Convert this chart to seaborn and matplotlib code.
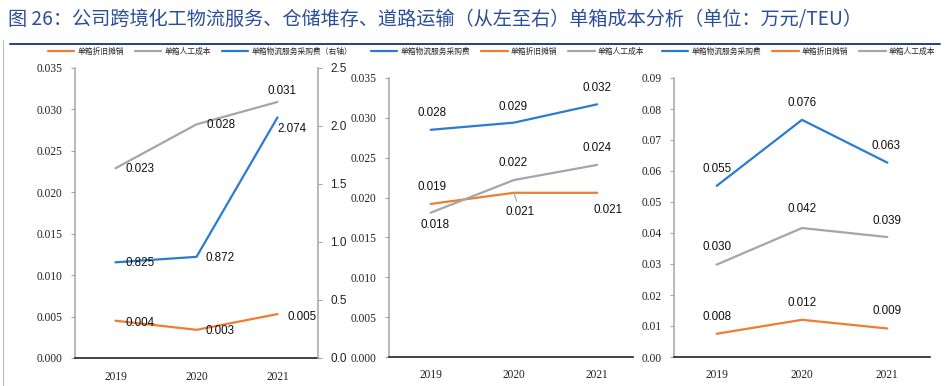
import matplotlib
matplotlib.use("Agg")
import matplotlib.pyplot as plt
from matplotlib.lines import Line2D
import seaborn as sns

# ---- data ----
years = ["2019", "2020", "2021"]
name_purchase = "单箱物流服务采购费"
name_depr = "单箱折旧摊销"
name_labor = "单箱人工成本"

# panel 1: cross-border chemical logistics (purchase on right axis)
p1_depr = [0.0045, 0.0034, 0.0053]
p1_labor = [0.0229, 0.0282, 0.0309]
p1_purchase = [0.825, 0.872, 2.074]
p1_depr_lbl = ["0.004", "0.003", "0.005"]
p1_labor_lbl = ["0.023", "0.028", "0.031"]
p1_purchase_lbl = ["0.825", "0.872", "2.074"]

# panel 2: warehousing / storage
p2_purchase = [0.0285, 0.0294, 0.0317]
p2_depr = [0.0192, 0.0206, 0.0206]
p2_labor = [0.0181, 0.0222, 0.0241]
p2_purchase_lbl = ["0.028", "0.029", "0.032"]
p2_depr_lbl = ["0.019", "0.021", "0.021"]
p2_labor_lbl = ["0.018", "0.022", "0.024"]

# panel 3: road transport
p3_purchase = [0.0552, 0.0765, 0.0627]
p3_labor = [0.0298, 0.0416, 0.0387]
p3_depr = [0.0075, 0.0120, 0.0092]
p3_purchase_lbl = ["0.055", "0.076", "0.063"]
p3_labor_lbl = ["0.030", "0.042", "0.039"]
p3_depr_lbl = ["0.008", "0.012", "0.009"]

title = "图 26：公司跨境化工物流服务、仓储堆存、道路运输（从左至右）单箱成本分析（单位：万元/TEU）"

BLUE = "#2B7BD0"
ORANGE = "#ED7D31"
GRAY = "#A5A5A5"

sns.set_theme(style="white")
plt.rcParams['font.family'] = ['Noto Sans CJK SC', 'DejaVu Sans']

W, H = 952, 386
fig = plt.figure(figsize=(W / 100, H / 100), dpi=100)


def px_axes(l, t, r, b):
    return fig.add_axes([l / W, 1 - b / H, (r - l) / W, (b - t) / H])


def style_axis(ax, ymax, step, fmt, xmax=2.5):
    ax.set_xlim(-0.5, xmax)
    ax.set_ylim(0, ymax)
    ticks = [i * step for i in range(int(round(ymax / step)) + 1)]
    ax.set_yticks(ticks)
    ax.set_yticklabels([fmt % t for t in ticks], family="Liberation Serif",
                       fontsize=8.3, color="#222222")
    ax.set_xticks(range(len(years)))
    ax.set_xticklabels(years, family="Liberation Serif", fontsize=8.3, color="#222222")
    ax.tick_params(axis="y", left=True, length=3, width=0.8, color="#A6A6A6", pad=6)
    ax.tick_params(axis="x", bottom=False, length=0, pad=9)
    for s in ["top", "right"]:
        ax.spines[s].set_visible(False)
    ax.spines["left"].set_color("#A6A6A6")
    ax.spines["left"].set_linewidth(1.1)
    ax.spines["bottom"].set_color("#222222")
    ax.spines["bottom"].set_linewidth(1.2)
    ax.set_xlabel("")
    ax.set_ylabel("")
    ax.set_facecolor("none")


def draw(ax, vals, color):
    sns.lineplot(x=list(range(len(vals))), y=vals, ax=ax, color=color,
                 linewidth=1.6, legend=False)


def label_points(ax, vals, texts, offsets, leader=None):
    # offsets are in pixels (dx right, dy up)
    for i, (v, t, (dx, dy)) in enumerate(zip(vals, texts, offsets)):
        kw = {}
        if leader is not None and i in leader:
            kw["arrowprops"] = dict(arrowstyle="-", color=GRAY, lw=0.8,
                                    shrinkA=1, shrinkB=0)
        ax.annotate(t, (i, v), xytext=(dx * 0.72, dy * 0.72),
                    textcoords="offset points", ha="center", va="center",
                    fontsize=8.4, family="Liberation Sans", color="#111111", **kw)


def legend(x_px, items):
    handles = [Line2D([], [], color=c, lw=1.6) for _, c in items]
    fig.legend(handles, [n for n, _ in items], loc="center left",
               bbox_to_anchor=(x_px / W, 1 - 52 / H), ncol=3, frameon=False,
               fontsize=5.6, handlelength=3.4, handletextpad=0.4,
               columnspacing=1.4, borderpad=0, borderaxespad=0)


# ---- panel 1 ----
ax1 = px_axes(75, 68, 318, 358)
style_axis(ax1, 0.035, 0.005, "%.3f")
ax1r = ax1.twinx()
ax1r.set_ylim(0, 2.5)
ax1r.set_yticks([0, 0.5, 1.0, 1.5, 2.0, 2.5])
ax1r.set_yticklabels(["0.0", "0.5", "1.0", "1.5", "2.0", "2.5"],
                     family="Liberation Sans", fontsize=8.5, color="#222222")
ax1r.tick_params(axis="y", right=True, length=3, width=0.8, color="#A6A6A6", pad=6)
for s in ["top", "left", "bottom"]:
    ax1r.spines[s].set_visible(False)
ax1r.spines["right"].set_color("#A6A6A6")
ax1r.spines["right"].set_linewidth(1.1)
ax1r.grid(False)

draw(ax1, p1_labor, GRAY)
draw(ax1, p1_depr, ORANGE)
draw(ax1r, p1_purchase, BLUE)
ax1r.set_ylabel("")
label_points(ax1, p1_labor, p1_labor_lbl, [(25, -1), (25, -1), (5, 11)])
label_points(ax1, p1_depr, p1_depr_lbl, [(25, -2), (24, -1), (25, -3)])
label_points(ax1r, p1_purchase, p1_purchase_lbl, [(25, -1), (24, -1), (14, -12)])
legend(48, [(name_depr, ORANGE), (name_labor, GRAY), (name_purchase + "（右轴）", BLUE)])

# ---- panel 2 ----
ax2 = px_axes(389, 78, 633, 357)
style_axis(ax2, 0.035, 0.005, "%.3f", xmax=2.43)
draw(ax2, p2_purchase, BLUE)
draw(ax2, p2_depr, ORANGE)
draw(ax2, p2_labor, GRAY)
label_points(ax2, p2_purchase, p2_purchase_lbl, [(1, 17), (-1, 16), (0, 16)])
label_points(ax2, p2_labor, p2_labor_lbl, [(4, -12), (-1, 17), (0, 17)])
label_points(ax2, p2_depr, p2_depr_lbl, [(1, 17), (6, -19), (11, -17)], leader=[1])
legend(371, [(name_purchase, BLUE), (name_depr, ORANGE), (name_labor, GRAY)])

# ---- panel 3 ----
ax3 = px_axes(674, 78, 930, 357)
style_axis(ax3, 0.09, 0.01, "%.2f")
draw(ax3, p3_purchase, BLUE)
draw(ax3, p3_depr, ORANGE)
draw(ax3, p3_labor, GRAY)
label_points(ax3, p3_purchase, p3_purchase_lbl, [(0, 17), (0, 17), (-1, 17)])
label_points(ax3, p3_labor, p3_labor_lbl, [(0, 18), (0, 19), (0, 16)])
label_points(ax3, p3_depr, p3_depr_lbl, [(0, 17), (0, 17), (0, 17)])
legend(662, [(name_purchase, BLUE), (name_depr, ORANGE), (name_labor, GRAY)])

# ---- title, rule and frame line ----
fig.text(8 / W, 1 - 20 / H, title, ha="left", va="center", fontsize=13.8,
         color="#2A4D9C")
fig.add_artist(Line2D([10 / W, 940 / W], [1 - 44 / H, 1 - 44 / H],
                      color="#1F3F99", lw=1.4))
fig.add_artist(Line2D([2.5 / W, 2.5 / W], [0, 1 - 40 / H], color="#BBBBBB", lw=0.8))

fig.savefig("out.png", dpi=100)
